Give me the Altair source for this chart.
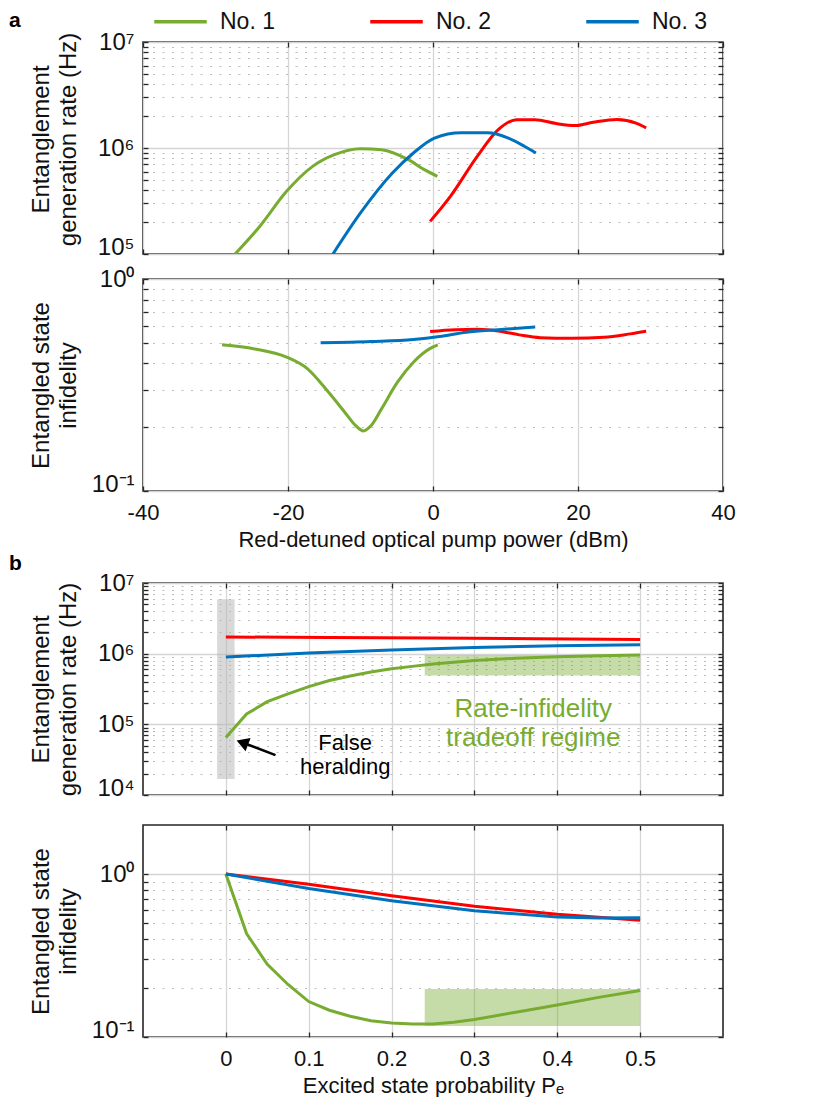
import json
import altair as alt
import pandas as pd

FONT = "Liberation Sans, Arial, Helvetica, sans-serif"
SERIES = ["No. 1", "No. 2", "No. 3"]
COLORS = ["#77AC30", "#FF0000", "#0072BD"]

# ---------------- panel a : x = red-detuned optical pump power (dBm) ----------------
A_RATE_X_NO1 = [-27.3, -23.9, -20.2, -16.6, -13.6, -10.0, -7.1, -3.4, -1.2, 0.6]
A_RATE_Y_NO1 = [1.0e5, 1.82e5, 3.90e5, 6.71e5, 8.65e5, 9.86e5, 9.64e5, 7.76e5, 6.25e5, 5.41e5]
A_RATE_X_NO2 = [-0.4, 2.4, 6.1, 9.0, 11.5, 14.1, 17.0, 19.6, 22.1, 25.4, 28.0, 29.4]
A_RATE_Y_NO2 = [2.03e5, 3.50e5, 8.34e5, 1.49e6, 1.85e6, 1.85e6, 1.70e6, 1.63e6, 1.75e6, 1.86e6, 1.72e6, 1.55e6]
A_RATE_X_NO3 = [-13.8, -10.0, -5.6, -2.7, 0.2, 3.9, 7.5, 10.4, 12.6, 14.2]
A_RATE_Y_NO3 = [1.0e5, 2.44e5, 5.81e5, 8.97e5, 1.24e6, 1.39e6, 1.39e6, 1.24e6, 1.04e6, 8.97e5]

A_INF_X_NO1 = [-29.1, -24.6, -20.2, -17.3, -14.4, -12.2, -10.7, -9.6, -8.5, -7.1, -4.9, -2.7, -0.5, 0.66]
A_INF_Y_NO1 = [0.489, 0.468, 0.428, 0.377, 0.292, 0.236, 0.204, 0.192, 0.204, 0.244, 0.326, 0.405, 0.468, 0.489]
A_INF_X_NO2 = [-0.4, 3.1, 6.1, 9.0, 11.9, 14.8, 19.2, 23.6, 27.2, 29.4]
A_INF_Y_NO2 = [0.565, 0.577, 0.579, 0.569, 0.545, 0.529, 0.526, 0.531, 0.551, 0.567]
A_INF_X_NO3 = [-15.5, -8.5, -2.7, 0.9, 4.6, 9.0, 14.1]
A_INF_Y_NO3 = [0.500, 0.507, 0.518, 0.535, 0.561, 0.577, 0.594]

A_X_TICKS = [-40, -20, 0, 20, 40]
A_RATE_DECADES = [1e5, 1e6, 1e7]
A_RATE_LABELS = ["10⁵", "10⁶", "10⁷"]
A_INF_DECADES = [0.1, 1.0]
A_INF_LABELS = ["10⁻¹", "10⁰"]

# ---------------- panel b : x = excited state probability ----------------
B_RATE_X_NO1 = [0, 0.025, 0.05, 0.075, 0.1, 0.125, 0.15, 0.175, 0.2, 0.225, 0.25, 0.3, 0.35, 0.4, 0.45, 0.5]
B_RATE_Y_NO1 = [6.5e4, 1.4e5, 2.09e5, 2.69e5, 3.41e5, 4.17e5, 4.84e5, 5.50e5, 6.10e5, 6.61e5, 7.13e5,
                8.0e5, 8.61e5, 9.04e5, 9.33e5, 9.55e5]
B_RATE_X_NO2 = [0, 0.125, 0.25, 0.375, 0.5]
B_RATE_Y_NO2 = [1.72e6, 1.70e6, 1.66e6, 1.63e6, 1.59e6]
B_RATE_X_NO3 = [0, 0.1, 0.2, 0.3, 0.4, 0.5]
B_RATE_Y_NO3 = [8.95e5, 1.02e6, 1.13e6, 1.22e6, 1.29e6, 1.34e6]

B_INF_X_NO1 = [0, 0.025, 0.05, 0.075, 0.1, 0.125, 0.15, 0.175, 0.2, 0.225, 0.25, 0.275, 0.3, 0.35, 0.4, 0.45, 0.5]
B_INF_Y_NO1 = [1.0, 0.431, 0.279, 0.210, 0.165, 0.146, 0.134, 0.126, 0.122, 0.120, 0.120, 0.123, 0.128,
               0.142, 0.157, 0.175, 0.193]
B_INF_X_NO2 = [0, 0.1, 0.2, 0.3, 0.4, 0.5]
B_INF_Y_NO2 = [1.0, 0.865, 0.735, 0.635, 0.566, 0.52]
B_INF_X_NO3 = [0, 0.1, 0.2, 0.3, 0.4, 0.45, 0.5]
B_INF_Y_NO3 = [1.0, 0.815, 0.685, 0.595, 0.545, 0.537, 0.54]

B_X_TICKS = [0, 0.1, 0.2, 0.3, 0.4, 0.5]
B_RATE_DECADES = [1e4, 1e5, 1e6, 1e7]
B_RATE_LABELS = ["10⁴", "10⁵", "10⁶", "10⁷"]
B_INF_DECADES = [0.1, 1.0]
B_INF_LABELS = ["10⁻¹", "10⁰"]

# annotations of panel b (data coordinates)
BAND_X = [-0.0105, 0.0105]
BAND_RATE = [1.68e4, 5.87e6]
REGIME_X = [0.24, 0.5]
REGIME_RATE = [4.9e5, 9.6e5]
REGIME_INF = [0.117, 0.197]
ARROW_TAIL = [0.0599, 3.67e4]
ARROW_HEAD = [0.0199, 5.52e4]
FALSE_TEXT = ["False\nheralding", 0.144, 5.4e4]
REGIME_TEXT = ["Rate-infidelity\ntradeoff regime", 0.371, 1.65e5]

W, H = 580, 212


def make_lines(xs_list, ys_list):
    rows = []
    for s, xs, ys in zip(SERIES, xs_list, ys_list):
        for i, (x, y) in enumerate(zip(xs, ys)):
            rows.append({"x": x, "y": y, "series": s, "order": i})
    return pd.DataFrame(rows)


def log_values(decades):
    vals = []
    for i, d in enumerate(decades):
        vals.append(d)
        if i < len(decades) - 1:
            vals += [d * k for k in range(2, 10)]
    return vals


def label_expr(ticks, labels):
    parts = [f"datum.value == {t!r} ? '{l}'" for t, l in zip(ticks, labels)]
    return " : ".join(parts) + " : ''"


def y_axis(decades, labels, title, title_y):
    major = f"indexof({json.dumps(decades)}, datum.value) >= 0"
    return alt.Axis(
        values=log_values(decades),
        labelExpr=label_expr(decades, labels),
        grid=True,
        gridColor={"condition": {"test": major, "value": "#d4d4d4"}, "value": "#bcbcbc"},
        gridDash={"condition": {"test": major, "value": []}, "value": [2, 7.5]},
        gridWidth={"condition": {"test": major, "value": 1.4}, "value": 1.2},
        tickSize=5, offset=-5, domain=False, tickColor="#262626", tickWidth=1.3,
        labelFontSize=24, labelPadding=9, labelFlush=False,
        labelBaseline={"condition": {"test": f"datum.value == {decades[0]!r}", "value": "alphabetic"},
                       "value": "middle"},
        title=title, titleX=-107, titleY=title_y, titleFontSize=24, titleLineHeight=27,
        titleBaseline="middle", titleAngle=270,
    )


def panel(df, xdom, xticks, decades, labels, ydom, ytitle, ytitle_y, interp, xformat,
          xtitle=None, xlabels=False, below=None, above=None, legend=None, title=None):
    xs = alt.Scale(domain=xdom, nice=False, zero=False)
    ys = alt.Scale(type="log", domain=ydom, nice=False)
    x_axis = alt.Axis(values=xticks, grid=True, gridColor="#d6d6d6", gridWidth=1.3,
                      tickSize=5, offset=-5, domain=False, tickColor="#262626", tickWidth=1.3,
                      labels=xlabels, labelFlush=False, labelFontSize=22, labelPadding=11,
                      format=xformat, labelExpr="replace(datum.label, '−', '-')",
                      title=xtitle, titlePadding=6, titleFontSize=22)
    lines = alt.Chart(df).mark_line(strokeWidth=3, interpolate=interp, clip=True).encode(
        x=alt.X("x:Q", scale=xs, axis=x_axis),
        y=alt.Y("y:Q", scale=ys, axis=y_axis(decades, labels, ytitle, ytitle_y)),
        color=alt.Color("series:N", scale=alt.Scale(domain=SERIES, range=COLORS), legend=legend),
        order="order:Q",
    )
    ticks = alt.Chart(df).mark_line(opacity=0).encode(
        x=alt.X("x:Q", scale=xs, axis=alt.Axis(orient="top", values=xticks, labels=False, grid=False,
                                                domain=False, tickSize=5, offset=-5, tickColor="#262626",
                                                tickWidth=1.3, title=None)),
        y=alt.Y("y:Q", scale=ys, axis=alt.Axis(orient="right", values=log_values(decades), labels=False,
                                                grid=False, domain=False, tickSize=5, offset=-5,
                                                tickColor="#262626", tickWidth=1.3, title=None)),
        detail="series:N",
    )
    layers = []
    if below:
        layers += below(xs, ys)
    layers += [lines, ticks]
    if above:
        layers += above(xs, ys)
    ch = alt.layer(*layers).resolve_axis(x="independent", y="independent").properties(width=W, height=H)
    if title is not None:
        ch = ch.properties(title=title)
    return ch


# ---------- panel b extras ----------
def b1_below(xs, ys):
    band = alt.Chart(pd.DataFrame({"x0": [BAND_X[0]], "x1": [BAND_X[1]],
                                   "y0": [BAND_RATE[0]], "y1": [BAND_RATE[1]]})).mark_rect(
        color="#b4b4b4", opacity=0.5).encode(
        x=alt.X("x0:Q", scale=xs, axis=None), x2="x1:Q",
        y=alt.Y("y0:Q", scale=ys, axis=None), y2="y1:Q")
    regime = alt.Chart(pd.DataFrame({"x0": [REGIME_X[0]], "x1": [REGIME_X[1]],
                                     "y0": [REGIME_RATE[0]], "y1": [REGIME_RATE[1]]})).mark_rect(
        color="#77AC30", opacity=0.42).encode(
        x=alt.X("x0:Q", scale=xs, axis=None), x2="x1:Q",
        y=alt.Y("y0:Q", scale=ys, axis=None), y2="y1:Q")
    return [band, regime]


def b1_above(xs, ys):
    arrow_df = pd.DataFrame({"x0": [ARROW_TAIL[0]], "y0": [ARROW_TAIL[1]],
                             "x1": [ARROW_HEAD[0]], "y1": [ARROW_HEAD[1]]})
    shaft = alt.Chart(arrow_df).mark_rule(color="black", strokeWidth=2.6).encode(
        x=alt.X("x0:Q", scale=xs, axis=None), x2="x1:Q",
        y=alt.Y("y0:Q", scale=ys, axis=None), y2="y1:Q")
    head = alt.Chart(arrow_df).mark_point(shape="triangle-left", filled=True, color="black",
                                          opacity=1, size=200, angle=20.7).encode(
        x=alt.X("x1:Q", scale=xs, axis=None), y=alt.Y("y1:Q", scale=ys, axis=None))
    txt_df = pd.DataFrame({"t": [FALSE_TEXT[0], REGIME_TEXT[0]],
                           "x": [FALSE_TEXT[1], REGIME_TEXT[1]],
                           "y": [FALSE_TEXT[2], REGIME_TEXT[2]]})
    t1 = alt.Chart(txt_df.iloc[[0]]).mark_text(lineBreak="\n", fontSize=22, lineHeight=24, font=FONT,
                                               color="black", align="center", baseline="middle").encode(
        x=alt.X("x:Q", scale=xs, axis=None), y=alt.Y("y:Q", scale=ys, axis=None), text="t:N")
    t2 = alt.Chart(txt_df.iloc[[1]]).mark_text(lineBreak="\n", fontSize=26, lineHeight=29, font=FONT,
                                               color="#77AC30", align="center", baseline="middle").encode(
        x=alt.X("x:Q", scale=xs, axis=None), y=alt.Y("y:Q", scale=ys, axis=None), text="t:N")
    return [shaft, head, t1, t2]


def b2_below(xs, ys):
    regime = alt.Chart(pd.DataFrame({"x0": [REGIME_X[0]], "x1": [REGIME_X[1]],
                                     "y0": [REGIME_INF[0]], "y1": [REGIME_INF[1]]})).mark_rect(
        color="#77AC30", opacity=0.42).encode(
        x=alt.X("x0:Q", scale=xs, axis=None), x2="x1:Q",
        y=alt.Y("y0:Q", scale=ys, axis=None), y2="y1:Q")
    return [regime]


# legend of panel a, with the panel letter "a" as its title
legend = alt.Legend(orient="none", legendX=-134, legendY=-33, direction="horizontal",
                    title="a", titleOrient="left", titleAnchor="middle", titleBaseline="middle",
                    titleFontSize=21, titleFontWeight="bold", titleFont=FONT, titleColor="black",
                    titlePadding=147,
                    symbolType="M-2.5,0H2.5", symbolSize=441, symbolStrokeWidth=3.5, labelFontSize=23,
                    labelFont=FONT, labelColor="#111", labelOffset=27, columnPadding=88, padding=0)

a1 = panel(make_lines([A_RATE_X_NO1, A_RATE_X_NO2, A_RATE_X_NO3], [A_RATE_Y_NO1, A_RATE_Y_NO2, A_RATE_Y_NO3]),
           [-40, 40], A_X_TICKS, A_RATE_DECADES, A_RATE_LABELS, [1e5, 1e7],
           ["Entanglement", "generation rate (Hz)"], 97, "monotone", "d", legend=legend)
a2 = panel(make_lines([A_INF_X_NO1, A_INF_X_NO2, A_INF_X_NO3], [A_INF_Y_NO1, A_INF_Y_NO2, A_INF_Y_NO3]),
           [-40, 40], A_X_TICKS, A_INF_DECADES, A_INF_LABELS, [0.1, 1.0],
           ["Entangled state", "infidelity"], 106, "monotone", "d",
           xtitle="Red-detuned optical pump power (dBm)", xlabels=True)
b1 = panel(make_lines([B_RATE_X_NO1, B_RATE_X_NO2, B_RATE_X_NO3], [B_RATE_Y_NO1, B_RATE_Y_NO2, B_RATE_Y_NO3]),
           [-0.1, 0.6], B_X_TICKS, B_RATE_DECADES, B_RATE_LABELS, [1e4, 1e7],
           ["Entanglement", "generation rate (Hz)"], 106, "linear", "~g", below=b1_below, above=b1_above,
           title=alt.TitleParams("b", anchor="start", frame="group", dx=-134, offset=-19.5,
                                 baseline="alphabetic", fontSize=21, fontWeight="bold", font=FONT,
                                 color="black"))
b2 = panel(make_lines([B_INF_X_NO1, B_INF_X_NO2, B_INF_X_NO3], [B_INF_Y_NO1, B_INF_Y_NO2, B_INF_Y_NO3]),
           [-0.1, 0.6], B_X_TICKS, B_INF_DECADES, B_INF_LABELS, [0.1, 2.0],
           ["Entangled state", "infidelity"], 106, "linear", "~g", below=b2_below,
           xtitle="Excited state probability Pₑ", xlabels=True)

top = alt.vconcat(a1, a2, spacing=6).resolve_legend(color="independent")
bottom = alt.vconcat(b1, b2, spacing=22).resolve_legend(color="independent")
chart = alt.vconcat(top, bottom, spacing=0).resolve_legend(color="independent").properties(
    padding={"left": 0, "top": 0, "right": 4, "bottom": 0}
).configure(font=FONT).configure_view(stroke="#262626", strokeWidth=1.6).configure_axis(
    labelFont=FONT, titleFont=FONT, labelColor="#111", titleColor="#111", titleFontWeight="normal")

chart.save("out.html", embed_options={"renderer": "svg", "actions": False})
